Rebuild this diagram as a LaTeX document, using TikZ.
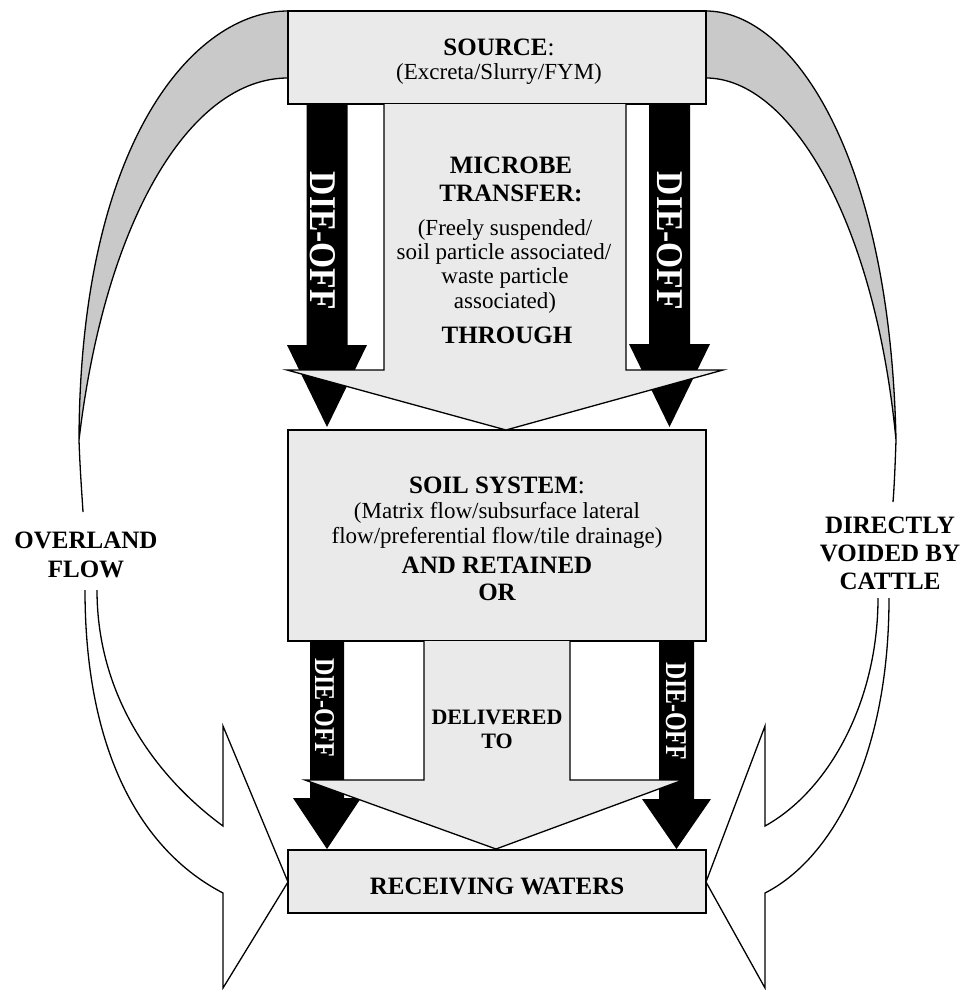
\documentclass[tikz,border=0pt]{standalone}
\usepackage{fontspec}
\setmainfont{Liberation Serif}
\usepackage{graphicx}
\definecolor{boxgray}{RGB}{234,234,234}
\definecolor{moongray}{RGB}{201,201,201}
\begin{document}
\begin{tikzpicture}[x=1pt,y=-1pt,line join=miter,
  outline/.style={draw=black,line width=1.3pt},
  boxnode/.style={outline,fill=boxgray,minimum width=418pt,inner sep=0pt},
  boldtxt/.style={font=\fontsize{25}{25}\selectfont\bfseries,anchor=base,inner sep=0pt},
  regtxt/.style={font=\fontsize{23}{25}\selectfont,anchor=base,inner sep=0pt},
  smallbold/.style={font=\fontsize{22}{22}\selectfont\bfseries,anchor=base,inner sep=0pt},
  dietext/.style={text=white,rotate=-90,inner sep=0pt},
  blackarrow/.style={fill=black},
  lightarrow/.style={outline,fill=boxgray},
  moon/.style={outline,fill=moongray},
  bolt/.style={outline,fill=white}]
\useasboundingbox (0,0) rectangle (966,990);

% upper crescents (gray)
\path[moon] (288,11) .. controls (195,11) and (80,140) .. (79,440)
  .. controls (105,220) and (190,78) .. (288,78) -- cycle;
\draw[line width=1.3pt] (79,440) .. controls (80,470) and (82,495) .. (83,512);
\path[moon] (706,11) .. controls (790,11) and (890,150) .. (896,440)
  .. controls (875,220) and (790,78) .. (706,78) -- cycle;
\draw[line width=1.3pt] (896,440) .. controls (895,470) and (894,490) .. (893,502);

% lower lightning arrows (white)
\draw[bolt] (85,590) .. controls (85,750) and (140,850) .. (223,893)
  -- (223,988) -- (288,882) -- (223,726) -- (223,826)
  .. controls (160,780) and (97,700) .. (97,590);
\draw[bolt] (889,598) .. controls (889,760) and (830,860) .. (765,893)
  -- (765,988) -- (706,882) -- (765,726) -- (765,826)
  .. controls (830,790) and (878,700) .. (878,598);

% boxes
\node[boxnode,minimum height=93pt] (source) at (497,57.5) {};
\node[boxnode,minimum height=211pt] (soil) at (497,535.5) {};
\node[boxnode,minimum height=63pt] (recv) at (497,881.5) {};

% black die-off arrows
\fill[blackarrow] (306.5,104) -- (306.5,345) -- (287,345) -- (327,427) -- (367,345) -- (347.5,345) -- (347.5,104) -- cycle;
\fill[blackarrow] (649,104) -- (649,344) -- (629,344) -- (669.5,427) -- (710,344) -- (690,344) -- (690,104) -- cycle;
\fill[blackarrow] (310,641) -- (310,798) -- (293,798) -- (327,849) -- (361,798) -- (344,798) -- (344,641) -- cycle;
\fill[blackarrow] (659,641) -- (659,799) -- (642,799) -- (676.5,849) -- (711,799) -- (694,799) -- (694,641) -- cycle;

% light transfer arrows
\draw[lightarrow] (384,104) -- (384,370) -- (287,370) -- (506,430) -- (723,370) -- (626,370) -- (626,104);
\draw[lightarrow] (424,641) -- (424,780) -- (305,780) -- (496,849) -- (683,780) -- (570,780) -- (570,641);

% die-off labels
\node[dietext] (d1) at (322.5,241) {\resizebox{138pt}{25pt}{\bfseries DIE-OFF}};
\node[dietext] (d2) at (670,241) {\resizebox{138pt}{25pt}{\bfseries DIE-OFF}};
\node[dietext] (d3) at (324.5,707.5) {\resizebox{99pt}{19pt}{\bfseries DIE-OFF}};
\node[dietext] (d4) at (676,711) {\resizebox{98pt}{20pt}{\bfseries DIE-OFF}};

% source text
\node[boldtxt] (srcT) at (499,56) {SOURCE\textmd{:}};
\node[regtxt] (srcS) at (499,80) {(Excreta/Slurry/FYM)};

% microbe transfer text
\node[boldtxt] (mt1) at (511,173) {MICROBE};
\node[boldtxt] (mt2) at (511,201) {TRANSFER:};
\node[regtxt] (mt3) at (505,235) {(Freely suspended/};
\node[regtxt] (mt4) at (504,259) {soil particle associated/};
\node[regtxt] (mt5) at (505,283) {waste particle};
\node[regtxt] (mt6) at (505,308) {associated)};
\node[boldtxt] (mt7) at (507,343) {THROUGH};

% soil text
\node[boldtxt] (st1) at (497,493) {SOIL SYSTEM\textmd{:}};
\node[regtxt] (st2) at (497,518) {(Matrix flow/subsurface lateral};
\node[regtxt] (st3) at (497,543) {flow/preferential flow/tile drainage)};
\node[boldtxt] (st4) at (497,573) {AND RETAINED};
\node[boldtxt] (st5) at (497,600) {OR};

% delivered to
\node[smallbold] (dl1) at (497,724) {DELIVERED};
\node[smallbold] (dl2) at (497,748) {TO};

% receiving waters
\node[boldtxt] (rw) at (497,894) {RECEIVING WATERS};

% side labels
\node[boldtxt] (ov1) at (86,548) {OVERLAND};
\node[boldtxt] (ov2) at (86,577) {FLOW};
\node[boldtxt] (dv1) at (890,533) {DIRECTLY};
\node[boldtxt] (dv2) at (890,561) {VOIDED BY};
\node[boldtxt] (dv3) at (890,589) {CATTLE};
\end{tikzpicture}
\end{document}
